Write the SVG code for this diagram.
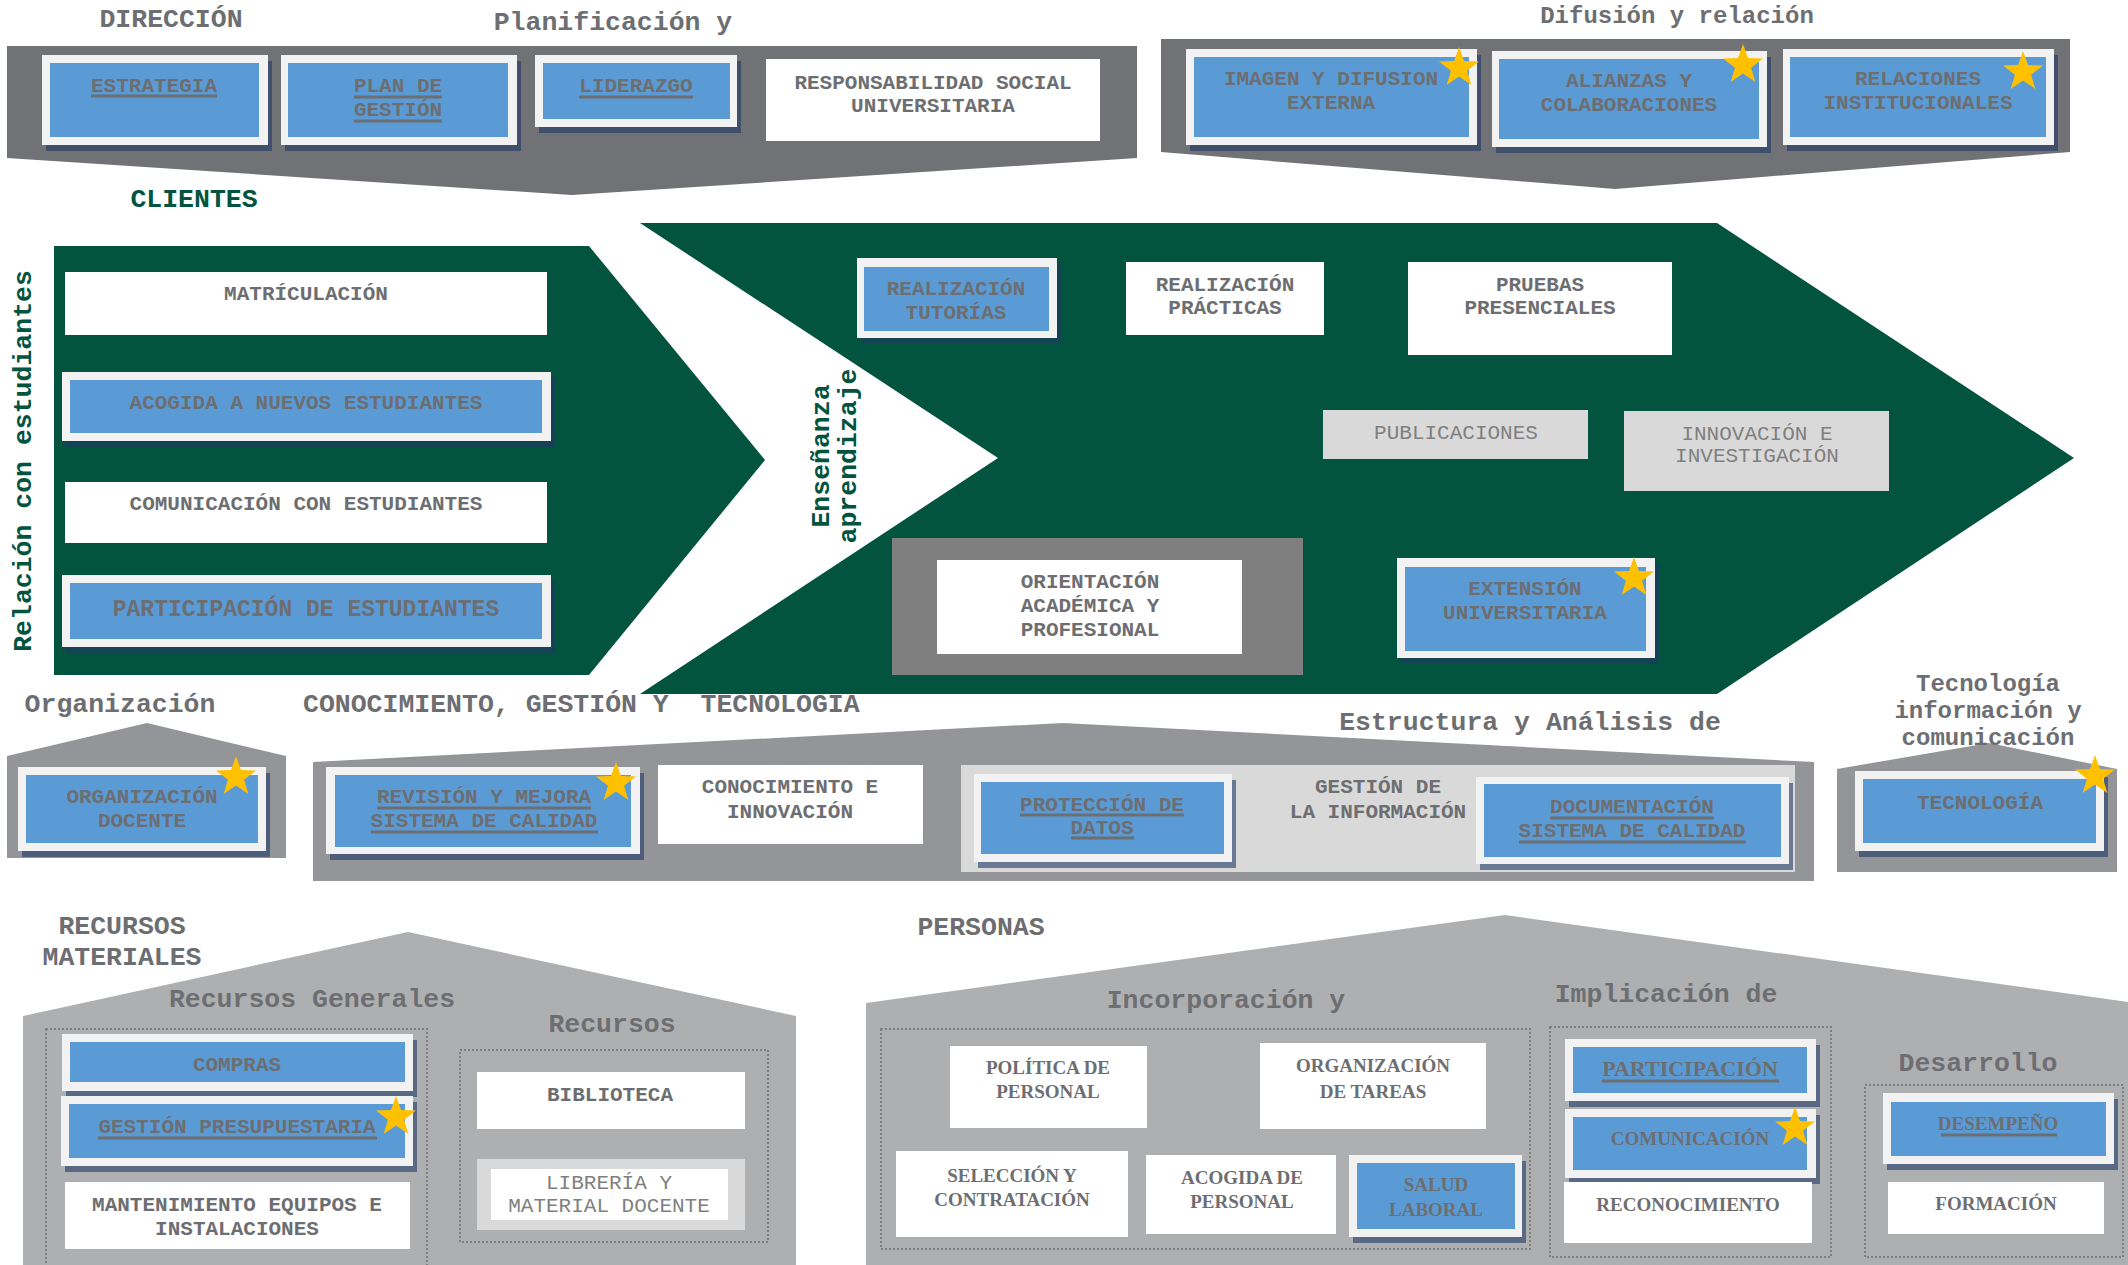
<svg xmlns="http://www.w3.org/2000/svg" width="2128" height="1265" viewBox="0 0 2128 1265">
<style>
.band{fill:#717276}
.h1{fill:#939598}
.h2{fill:#aeafb1}
.grn{fill:#02543f}
.out{fill:#f2f2f2}
.blue{fill:#5b9bd5}
.sh{fill:#1f3864;opacity:.6}
.wh{fill:#ffffff}
.lg{fill:#d9d9d9}
.dk{fill:#7f7f7f}
.dot{fill:none;stroke:#7f7f7f;stroke-width:2;stroke-dasharray:2 2}
.ul{stroke:#6d6e71;stroke-width:3}
.t{font-family:"Liberation Mono","Courier New",monospace;font-weight:bold;font-size:21px;fill:#6d6e71;text-anchor:middle}
.tl{font-family:"Liberation Mono","Courier New",monospace;font-weight:normal;font-size:21px;fill:#7f7f7f;text-anchor:middle}
.s{font-family:"Liberation Serif","Times New Roman",serif;font-weight:bold;font-size:19px;fill:#6d6e71;text-anchor:middle}
.ti{font-family:"Liberation Mono","Courier New",monospace;font-weight:bold;font-size:26.5px;fill:#6d6e71;text-anchor:middle}
.tg{font-family:"Liberation Mono","Courier New",monospace;font-weight:bold;font-size:26.5px;fill:#02543f;text-anchor:middle}
.star{fill:#ffc000}
</style>
<defs>
<path id="star" d="M0,-21 L5,-6.88 L19.97,-6.49 L8.08,2.63 L12.34,16.99 L0,8.5 L-12.34,16.99 L-8.08,2.63 L-19.97,-6.49 L-5,-6.88 Z"/>
</defs>

<g id="backgrounds">
<polygon class="band" points="7,46 1137,46 1137,158 572,195 7,158"/>
<polygon class="band" points="1161,39 2070,39 2070,152 1615,189 1161,152"/>
<polygon class="grn" points="54,246 589,246 765,460 589,675 54,675"/>
<polygon class="grn" points="640,223 1717,223 2074,458 1717,694 640,694 998,458"/>
<polygon class="h1" points="7,756 147,723 286,756 286,858 7,858"/>
<polygon class="h1" points="313,762 1063,723 1814,762 1814,881 313,881"/>
<rect class="lg" x="961" y="765" width="834" height="107"/>
<polygon class="h1" points="1837,769 1989,743 2117,769 2117,872 1837,872"/>
<polygon class="h2" points="23,1016 408,932 796,1016 796,1265 23,1265"/>
<polygon class="h2" points="866,1003 1505,915 2128,1002 2128,1265 866,1265"/>
<rect class="dot" x="46" y="1029" width="381" height="250"/>
<rect class="dot" x="460" y="1050" width="308" height="192"/>
<rect class="dot" x="881" y="1029" width="649" height="220"/>
<rect class="dot" x="1550" y="1027" width="281" height="230"/>
<rect class="dot" x="1865" y="1085" width="258" height="172"/>
</g>

<g id="titles">
<text class="ti" x="171" y="27">DIRECCIÓN</text>
<text class="ti" x="613" y="30">Planificación y</text>
<text class="ti" x="1677" y="23" style="font-size:24px">Difusión y relación</text>
<text class="tg" x="194" y="207">CLIENTES</text>
<text class="tg" transform="translate(31,461) rotate(-90)">Relación con estudiantes</text>
<text class="tg" transform="translate(829,456) rotate(-90)">Enseñanza</text>
<text class="tg" transform="translate(856,456) rotate(-90)">aprendizaje</text>
<text class="ti" x="120" y="712">Organización</text>
<text class="ti" x="303" y="712" style="text-anchor:start;white-space:pre" xml:space="preserve">CONOCIMIENTO, GESTIÓN Y  TECNOLOGIA</text>
<text class="ti" x="1530" y="730">Estructura y Análisis de</text>
<text class="ti" x="1988" y="691" style="font-size:24px">Tecnología</text>
<text class="ti" x="1988" y="718" style="font-size:24px">información y</text>
<text class="ti" x="1988" y="745" style="font-size:24px">comunicación</text>
<text class="ti" x="122" y="934">RECURSOS</text>
<text class="ti" x="122" y="965">MATERIALES</text>
<text class="ti" x="312" y="1007">Recursos Generales</text>
<text class="ti" x="612" y="1032">Recursos</text>
<text class="ti" x="981" y="935">PERSONAS</text>
<text class="ti" x="1226" y="1008">Incorporación y</text>
<text class="ti" x="1666" y="1002">Implicación de</text>
<text class="ti" x="1978" y="1071">Desarrollo</text>
</g>

<g id="n-estrategia">
<rect class="sh" x="46" y="61" width="226" height="90"/><rect class="out" x="42" y="55" width="226" height="90"/><rect class="blue" x="50" y="63" width="209" height="74"/>
<text class="t" x="154" y="92">ESTRATEGIA</text><line class="ul" x1="91" y1="96" x2="217" y2="96"/>
</g>
<g id="n-plan">
<rect class="sh" x="285" y="61" width="236" height="90"/><rect class="out" x="281" y="55" width="236" height="90"/><rect class="blue" x="288" y="63" width="220" height="74"/>
<text class="t" x="398" y="92">PLAN DE</text><line class="ul" x1="354" y1="97" x2="442" y2="97"/>
<text class="t" x="398" y="116">GESTIÓN</text><line class="ul" x1="354" y1="121" x2="442" y2="121"/>
</g>
<g id="n-liderazgo">
<rect class="sh" x="539" y="61" width="202" height="72"/><rect class="out" x="535" y="55" width="202" height="72"/><rect class="blue" x="543" y="63" width="187" height="56"/>
<text class="t" x="636" y="92">LIDERAZGO</text><line class="ul" x1="579" y1="97" x2="693" y2="97"/>
</g>
<g id="n-rsu">
<rect class="wh" x="766" y="59" width="334" height="82"/>
<text class="t" x="933" y="89">RESPONSABILIDAD SOCIAL</text>
<text class="t" x="933" y="112">UNIVERSITARIA</text>
</g>

<g id="n-imagen">
<rect class="sh" x="1190" y="55" width="291" height="96"/><rect class="out" x="1186" y="49" width="291" height="96"/><rect class="blue" x="1194" y="57" width="275" height="80"/>
<text class="t" x="1331" y="85">IMAGEN Y DIFUSION</text><text class="t" x="1331" y="109">EXTERNA</text>
<use href="#star" class="star" x="1459" y="68"/>
</g>
<g id="n-alianzas">
<rect class="sh" x="1496" y="57" width="275" height="96"/><rect class="out" x="1492" y="51" width="275" height="96"/><rect class="blue" x="1499" y="59" width="260" height="80"/>
<text class="t" x="1629" y="87">ALIANZAS Y</text><text class="t" x="1629" y="111">COLABORACIONES</text>
<use href="#star" class="star" x="1743" y="65"/>
</g>
<g id="n-relaciones">
<rect class="sh" x="1787" y="55" width="271" height="96"/><rect class="out" x="1783" y="49" width="271" height="96"/><rect class="blue" x="1790" y="57" width="256" height="80"/>
<text class="t" x="1918" y="85">RELACIONES</text><text class="t" x="1918" y="109">INSTITUCIONALES</text>
<use href="#star" class="star" x="2023" y="72"/>
</g>

<g id="n-matriculacion">
<rect class="wh" x="65" y="272" width="482" height="63"/>
<text class="t" x="306" y="300">MATRÍCULACIÓN</text>
</g>
<g id="n-acogida-est">
<rect class="sh" x="66" y="378" width="489" height="69"/><rect class="out" x="62" y="372" width="489" height="69"/><rect class="blue" x="70" y="380" width="472" height="53"/>
<text class="t" x="306" y="409">ACOGIDA A NUEVOS ESTUDIANTES</text>
</g>
<g id="n-comunicacion-est">
<rect class="wh" x="65" y="482" width="482" height="61"/>
<text class="t" x="306" y="510">COMUNICACIÓN CON ESTUDIANTES</text>
</g>
<g id="n-participacion-est">
<rect class="sh" x="66" y="581" width="489" height="72"/><rect class="out" x="62" y="575" width="489" height="72"/><rect class="blue" x="70" y="583" width="472" height="56"/>
<text class="t" x="306" y="616" style="font-size:23px">PARTICIPACIÓN DE ESTUDIANTES</text>
</g>

<g id="n-tutorias">
<rect class="sh" x="861" y="264" width="200" height="80"/><rect class="out" x="857" y="258" width="200" height="80"/><rect class="blue" x="864" y="267" width="185" height="64"/>
<text class="t" x="956" y="295">REALIZACIÓN</text><text class="t" x="956" y="319">TUTORÍAS</text>
</g>
<g id="n-practicas">
<rect class="wh" x="1126" y="262" width="198" height="73"/>
<text class="t" x="1225" y="291">REALIZACIÓN</text><text class="t" x="1225" y="314">PRÁCTICAS</text>
</g>
<g id="n-pruebas">
<rect class="wh" x="1408" y="262" width="264" height="93"/>
<text class="t" x="1540" y="291">PRUEBAS</text><text class="t" x="1540" y="314">PRESENCIALES</text>
</g>
<g id="n-publicaciones">
<rect class="lg" x="1323" y="410" width="265" height="49"/>
<text class="tl" x="1456" y="439">PUBLICACIONES</text>
</g>
<g id="n-innovacion">
<rect class="lg" x="1624" y="411" width="265" height="80"/>
<text class="tl" x="1757" y="440">INNOVACIÓN E</text><text class="tl" x="1757" y="462">INVESTIGACIÓN</text>
</g>
<g id="n-orientacion">
<rect class="dk" x="892" y="538" width="411" height="137"/>
<rect class="wh" x="937" y="560" width="305" height="94"/>
<text class="t" x="1090" y="588">ORIENTACIÓN</text><text class="t" x="1090" y="612">ACADÉMICA Y</text><text class="t" x="1090" y="636">PROFESIONAL</text>
</g>
<g id="n-extension">
<rect class="sh" x="1401" y="564" width="258" height="100"/><rect class="out" x="1397" y="558" width="258" height="100"/><rect class="blue" x="1405" y="567" width="241" height="84"/>
<text class="t" x="1525" y="595">EXTENSIÓN</text><text class="t" x="1525" y="619">UNIVERSITARIA</text>
<use href="#star" class="star" x="1634" y="578"/>
</g>

<g id="n-org-docente">
<rect class="sh" x="22" y="773" width="248" height="84"/><rect class="out" x="18" y="767" width="248" height="84"/><rect class="blue" x="26" y="775" width="232" height="68"/>
<text class="t" x="142" y="803">ORGANIZACIÓN</text><text class="t" x="142" y="827">DOCENTE</text>
<use href="#star" class="star" x="236" y="777"/>
</g>
<g id="n-revision">
<rect class="sh" x="330" y="773" width="314" height="87"/><rect class="out" x="326" y="767" width="314" height="87"/><rect class="blue" x="335" y="775" width="296" height="72"/>
<text class="t" x="484" y="803">REVISIÓN Y MEJORA</text><line class="ul" x1="377" y1="808" x2="591" y2="808"/>
<text class="t" x="484" y="827">SISTEMA DE CALIDAD</text><line class="ul" x1="371" y1="832" x2="598" y2="832"/>
<use href="#star" class="star" x="616" y="783"/>
</g>
<g id="n-conocimiento">
<rect class="wh" x="658" y="765" width="265" height="79"/>
<text class="t" x="790" y="793">CONOCIMIENTO E</text><text class="t" x="790" y="818">INNOVACIÓN</text>
</g>
<g id="n-proteccion">
<rect class="sh" x="978" y="780" width="258" height="88"/><rect class="out" x="974" y="774" width="258" height="88"/><rect class="blue" x="981" y="782" width="243" height="72"/>
<text class="t" x="1102" y="811">PROTECCIÓN DE</text><line class="ul" x1="1020" y1="815" x2="1184" y2="815"/>
<text class="t" x="1102" y="834">DATOS</text><line class="ul" x1="1071" y1="838" x2="1134" y2="838"/>
</g>
<g id="n-gestion-info">
<text class="t" x="1378" y="793">GESTIÓN DE</text><text class="t" x="1378" y="818">LA INFORMACIÓN</text>
</g>
<g id="n-documentacion">
<rect class="sh" x="1480" y="783" width="313" height="87"/><rect class="out" x="1476" y="777" width="313" height="87"/><rect class="blue" x="1484" y="784" width="297" height="73"/>
<text class="t" x="1632" y="813">DOCUMENTACIÓN</text><line class="ul" x1="1550" y1="818" x2="1714" y2="818"/>
<text class="t" x="1632" y="837">SISTEMA DE CALIDAD</text><line class="ul" x1="1519" y1="842" x2="1746" y2="842"/>
</g>
<g id="n-tecnologia">
<rect class="sh" x="1859" y="777" width="249" height="80"/><rect class="out" x="1855" y="771" width="249" height="80"/><rect class="blue" x="1863" y="779" width="233" height="64"/>
<text class="t" x="1980" y="809">TECNOLOGÍA</text>
<use href="#star" class="star" x="2095" y="776"/>
</g>

<g id="n-compras">
<rect class="sh" x="66" y="1040" width="351" height="57"/><rect class="out" x="62" y="1034" width="351" height="57"/><rect class="blue" x="70" y="1042" width="335" height="40"/>
<text class="t" x="237" y="1071">COMPRAS</text>
</g>
<g id="n-presupuestaria">
<rect class="sh" x="65" y="1102" width="352" height="70"/><rect class="out" x="61" y="1096" width="352" height="70"/><rect class="blue" x="69" y="1104" width="336" height="54"/>
<text class="t" x="237" y="1133">GESTIÓN PRESUPUESTARIA</text><line class="ul" x1="98" y1="1138" x2="377" y2="1138"/>
<use href="#star" class="star" x="396" y="1117"/>
</g>
<g id="n-mantenimiento">
<rect class="wh" x="65" y="1182" width="345" height="67"/>
<text class="t" x="237" y="1211">MANTENIMIENTO EQUIPOS E</text><text class="t" x="237" y="1235">INSTALACIONES</text>
</g>
<g id="n-biblioteca">
<rect class="wh" x="477" y="1072" width="268" height="57"/>
<text class="t" x="610" y="1101">BIBLIOTECA</text>
</g>
<g id="n-libreria">
<rect class="lg" x="477" y="1159" width="268" height="71"/>
<rect class="wh" x="491" y="1169" width="237" height="51"/>
<text class="tl" x="609" y="1189">LIBRERÍA Y</text><text class="tl" x="609" y="1212">MATERIAL DOCENTE</text>
</g>

<g id="n-politica">
<rect class="wh" x="950" y="1046" width="197" height="82"/>
<text class="s" x="1048" y="1074">POLÍTICA DE</text><text class="s" x="1048" y="1098">PERSONAL</text>
</g>
<g id="n-org-tareas">
<rect class="wh" x="1260" y="1043" width="226" height="86"/>
<text class="s" x="1373" y="1072">ORGANIZACIÓN</text><text class="s" x="1373" y="1098">DE TAREAS</text>
</g>
<g id="n-seleccion">
<rect class="wh" x="896" y="1151" width="232" height="86"/>
<text class="s" x="1012" y="1182">SELECCIÓN Y</text><text class="s" x="1012" y="1206">CONTRATACIÓN</text>
</g>
<g id="n-acogida-per">
<rect class="wh" x="1146" y="1155" width="190" height="79"/>
<text class="s" x="1242" y="1184">ACOGIDA DE</text><text class="s" x="1242" y="1208">PERSONAL</text>
</g>
<g id="n-salud">
<rect class="sh" x="1353" y="1161" width="173" height="82"/><rect class="out" x="1349" y="1155" width="173" height="82"/><rect class="blue" x="1357" y="1163" width="158" height="66"/>
<text class="s" x="1436" y="1191">SALUD</text><text class="s" x="1436" y="1216">LABORAL</text>
</g>
<g id="n-participacion">
<rect class="sh" x="1569" y="1045" width="251" height="62"/><rect class="out" x="1565" y="1039" width="251" height="62"/><rect class="blue" x="1573" y="1047" width="234" height="46"/>
<text class="s" x="1690" y="1076" style="font-size:22px">PARTICIPACIÓN</text><line class="ul" x1="1602" y1="1081" x2="1779" y2="1081"/>
</g>
<g id="n-comunicacion">
<rect class="sh" x="1569" y="1115" width="251" height="69"/><rect class="out" x="1565" y="1109" width="251" height="69"/><rect class="blue" x="1573" y="1117" width="234" height="53"/>
<text class="s" x="1690" y="1145">COMUNICACIÓN</text>
<use href="#star" class="star" x="1795" y="1128"/>
</g>
<g id="n-reconocimiento">
<rect class="wh" x="1564" y="1182" width="248" height="61"/>
<text class="s" x="1688" y="1211">RECONOCIMIENTO</text>
</g>
<g id="n-desempeno">
<rect class="sh" x="1887" y="1099" width="231" height="71"/><rect class="out" x="1883" y="1093" width="231" height="71"/><rect class="blue" x="1891" y="1102" width="215" height="54"/>
<text class="s" x="1998" y="1130">DESEMPEÑO</text><line class="ul" x1="1941" y1="1135" x2="2057" y2="1135"/>
</g>
<g id="n-formacion">
<rect class="wh" x="1888" y="1182" width="216" height="52"/>
<text class="s" x="1996" y="1210">FORMACIÓN</text>
</g>
<g id="connectors"></g>
</svg>
